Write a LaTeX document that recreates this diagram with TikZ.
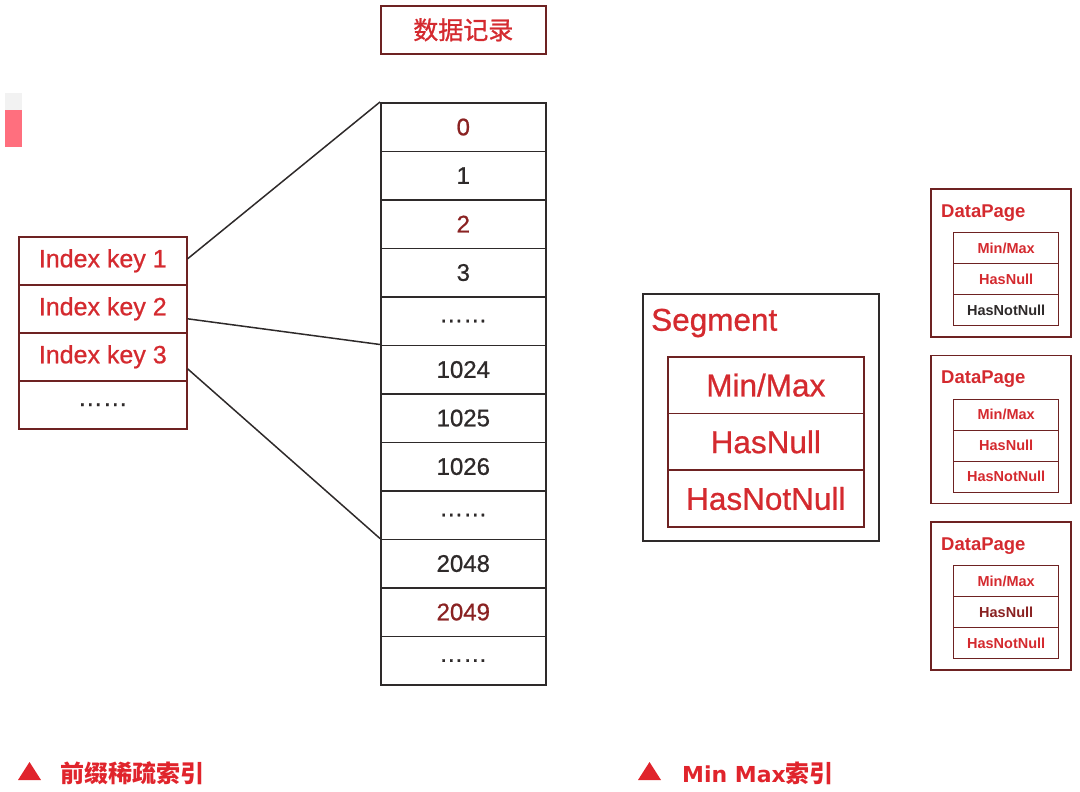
\documentclass[tikz,border=0pt]{standalone}
\usepackage{fontspec}
\setmainfont{Liberation Sans}
\newfontfamily\medsans[FakeBold=0.8]{Liberation Sans}
\newfontfamily\cjk{Noto Sans CJK SC}
\newfontfamily\cjkm[FakeBold=1.0]{Noto Sans CJK SC}
\newfontfamily\dvb{DejaVu Sans}
\usetikzlibrary{calc}
\definecolor{txtred}{HTML}{D42A2F}
\definecolor{dred}{HTML}{8A2222}
\definecolor{edge}{HTML}{2E2A2A}
\definecolor{redge}{HTML}{6E2222}
\definecolor{lbl}{HTML}{E0242C}
\definecolor{pinkblk}{HTML}{FF6F7E}
\begin{document}
\begin{tikzpicture}[x=1pt,y=-1pt,
  cell/.style={draw=edge,line width=1.6pt,minimum width=165pt,minimum height=48.5pt,inner sep=0pt,anchor=north west,font=\medsans\fontsize{24}{28}\selectfont,text=edge},
  keycell/.style={draw=redge,line width=1.6pt,minimum width=168pt,minimum height=48pt,inner sep=0pt,anchor=north west,font=\medsans\fontsize{25}{28}\selectfont,text=txtred},
  segcell/.style={draw=redge,line width=1.6pt,minimum width=196pt,minimum height=56.7pt,inner sep=0pt,anchor=north west,font=\medsans\fontsize{31.5}{36}\selectfont,text=txtred},
  dpcell/.style={draw=redge,line width=1.4pt,minimum width=105pt,minimum height=31pt,inner sep=0pt,anchor=north west,font=\bfseries\fontsize{14.5}{17}\selectfont},
  frame/.style={draw=redge,line width=1.6pt,inner sep=0pt,anchor=north west},
  link/.style={draw=edge,line width=1.5pt},
  tri/.style={fill=lbl},
  lbltext/.style={anchor=west,text=lbl,font=\cjk\bfseries\fontsize{24}{28}\selectfont,inner sep=0pt}
]
\useasboundingbox (0,0) rectangle (1080,792);

% pink artifact block
\fill[black!5] (5,93) rectangle (22,110);
\fill[pinkblk] (5,110) rectangle (22,147);

% title
\node[frame,draw=redge,minimum width=165pt,minimum height=48pt,text=txtred,font=\cjkm\fontsize{25}{30}\selectfont] (title) at (380,5) {数据记录};

% records column
\node[cell,text=dred] (r0) at (380,102) {0};
\node[cell] (r1) at (380,150.5) {1};
\node[cell,text=dred] (r2) at (380,199) {2};
\node[cell] (r3) at (380,247.5) {3};
\node[cell] (r4) at (380,296) {……};
\node[cell] (r5) at (380,344.5) {1024};
\node[cell] (r6) at (380,393) {1025};
\node[cell] (r7) at (380,441.5) {1026};
\node[cell] (r8) at (380,490) {……};
\node[cell] (r9) at (380,538.5) {2048};
\node[cell,text=dred] (r10) at (380,587) {2049};
\node[cell] (r11) at (380,635.5) {……};

% index keys
\node[keycell] (k1) at (18,236) {Index key 1};
\node[keycell] (k2) at (18,284) {Index key 2};
\node[keycell] (k3) at (18,332) {Index key 3};
\node[keycell,text=edge] (k4) at (18,380) {……};

% connectors
\draw[link] ([yshift=2pt]k1.east) -- (r0.north west);
\draw[link] ([yshift=-10pt]k2.east) -- (r5.north west);
\draw[link] ([yshift=-12pt]k3.east) -- (r9.north west);

% segment
\node[frame,draw=edge,minimum width=236pt,minimum height=247pt] (seg) at (642,293) {};
\node[anchor=west,inner sep=0pt,text=txtred,font=\medsans\fontsize{31.5}{36}\selectfont] (segt) at (651,323) {Segment};
\node[segcell] (s1) at (667,356) {Min/Max};
\node[segcell] (s2) at (667,412.7) {HasNull};
\node[segcell] (s3) at (667,469.4) {HasNotNull};

% data pages
\foreach \i/\t/\ca/\cb/\cc in {1/188/txtred/txtred/edge, 2/354.5/txtred/txtred/txtred, 3/521/txtred/dred/txtred}{
  \node[frame,minimum width=140pt,minimum height=148pt] (dp\i) at (930,\t) {};
  \node[anchor=west,inner sep=0pt,text=txtred,font=\bfseries\fontsize{18.5}{22}\selectfont] (dpt\i) at (941,\t+25) {DataPage};
  \node[dpcell,text=\ca] (dpa\i) at (953,\t+44) {Min/Max};
  \node[dpcell,text=\cb] (dpb\i) at (953,\t+75) {HasNull};
  \node[dpcell,text=\cc] (dpc\i) at (953,\t+106) {HasNotNull};
}

% bottom labels
\fill[tri] (18,780) -- (41,780) -- (29.5,762) -- cycle;
\node[lbltext] (lab1) at (60,773) {前缀稀疏索引};
\fill[tri] (638,780) -- (661,780) -- (649.5,762) -- cycle;
\node[lbltext] (lab2) at (682,773) {{\dvb\bfseries\fontsize{22}{26}\selectfont Min Max}索引};
\end{tikzpicture}
\end{document}
